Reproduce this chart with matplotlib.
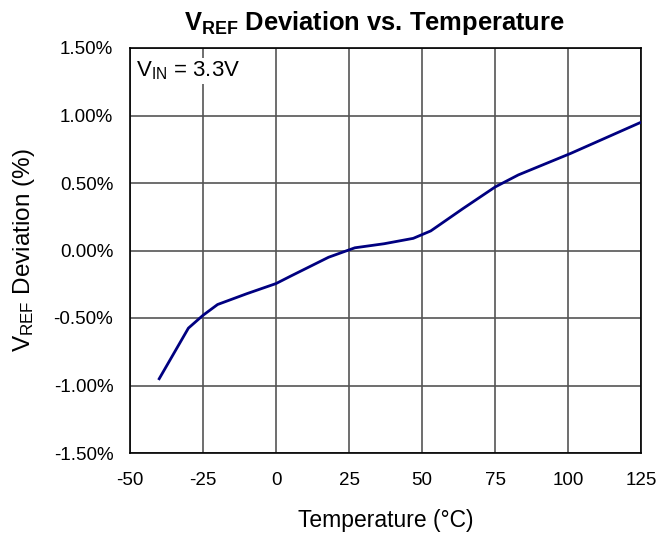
import numpy as np
import matplotlib
matplotlib.use("Agg")
import matplotlib.pyplot as plt

plt.rcParams['font.family'] = ['Liberation Sans', 'DejaVu Sans']
plt.rcParams['mathtext.fontset'] = 'custom'
plt.rcParams['mathtext.rm'] = 'Liberation Sans'
plt.rcParams['mathtext.it'] = 'Liberation Sans'
plt.rcParams['mathtext.bf'] = 'Liberation Sans:bold'
plt.rcParams['axes.unicode_minus'] = False

# Data
temp = [-40, -30, -25, -20, -10, 0, 5, 18, 27, 37, 47, 53, 64, 75, 83, 101, 125]
dev = [-0.95, -0.575, -0.48, -0.40, -0.32, -0.245, -0.19, -0.05, 0.02, 0.05,
       0.09, 0.145, 0.31, 0.47, 0.56, 0.72, 0.95]
x_ticks = [-50, -25, 0, 25, 50, 75, 100, 125]
y_ticks = [-1.5, -1.0, -0.5, 0.0, 0.5, 1.0, 1.5]

fig = plt.figure(figsize=(6.64, 5.38), dpi=100)
ax = fig.add_axes([130 / 664, 1 - 453 / 538, 511 / 664, 405 / 538])

ax.plot(temp, dev, color='#000080', lw=2, zorder=3)

ax.set_xlim(-50, 125)
ax.set_ylim(-1.5, 1.5)
ax.set_xticks(x_ticks)
ax.set_yticks(y_ticks)
ax.set_yticklabels(['{:.2f}%'.format(v) for v in y_ticks])
ax.grid(True, color='#555555', lw=1.2)
ax.tick_params(length=0, labelsize=13.5)
ax.tick_params(axis='y', pad=12)
ax.tick_params(axis='x', pad=14)
for s in ax.spines.values():
    s.set_color('black')
    s.set_linewidth(1.2)

ax.text(-47.8, 1.33, r'V$_{\mathrm{IN}}$ = 3.3V', fontsize=16, va='center',
        bbox=dict(facecolor='white', edgecolor='none', pad=1), zorder=4)

ax.set_title(r'$\mathbf{V_{REF}}$ Deviation vs. Temperature', fontsize=18.4,
             fontweight='bold', pad=13, x=0.4775)
ax.set_xlabel('Temperature (°C)', fontsize=16.5, labelpad=14)
ax.set_ylabel(r'V$_{\mathrm{REF}}$ Deviation (%)', fontsize=17.5, labelpad=12)

fig.savefig('out.png', dpi=100)
